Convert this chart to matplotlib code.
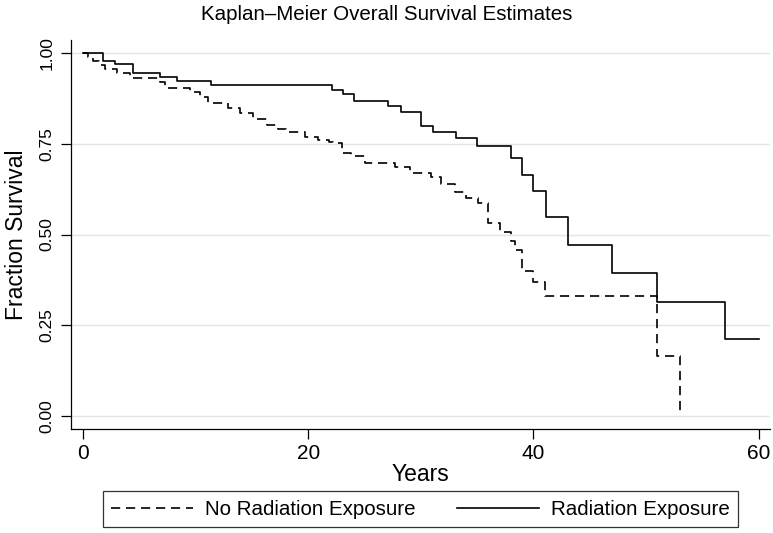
"""
Kaplan-Meier overall survival, radiation vs no radiation exposure.
Step curves read off the reference figure.
"""
import matplotlib
matplotlib.use("Agg")
import matplotlib.pyplot as plt

# --- data (years, fraction surviving) ---
t_rad = [0, 1.8, 2.85, 4.4, 6.8, 8.3, 11.4, 22.1, 23.1, 24.1, 27.1, 28.2,
         30.05, 31.1, 33.1, 35.0, 38.0, 39.0, 40.0, 41.1, 43.1, 47.0, 51.0,
         57.0, 60.0]
s_rad = [1.0, 0.979, 0.969, 0.946, 0.935, 0.923, 0.912, 0.898, 0.886, 0.869,
         0.854, 0.837, 0.80, 0.783, 0.765, 0.745, 0.71, 0.664, 0.621, 0.549,
         0.471, 0.393, 0.315, 0.211, 0.211]

t_norad = [0, 0.47, 0.9, 1.4, 1.95, 3.0, 4.2, 6.8, 7.3, 9.5, 10.4, 11.1, 12.9,
           13.9, 15.1, 16.3, 17.3, 18.0, 19.7, 20.9, 21.8, 22.2, 23.0, 23.8,
           25.0, 27.7, 29.0, 30.9, 31.8, 33.0, 34.0, 35.1, 36.0, 37.0, 38.0,
           38.4, 39.0, 40.0, 41.0, 51.0, 53.0]
s_norad = [1.0, 0.99, 0.978, 0.967, 0.956, 0.944, 0.932, 0.921, 0.905, 0.893,
           0.88, 0.863, 0.848, 0.834, 0.818, 0.803, 0.79, 0.783, 0.77, 0.76,
           0.756, 0.751, 0.724, 0.716, 0.698, 0.687, 0.67, 0.659, 0.64, 0.618,
           0.601, 0.586, 0.531, 0.508, 0.482, 0.457, 0.40, 0.37, 0.33, 0.165,
           0.0]

xticks = [0, 20, 40, 60]
yticks = [0.0, 0.25, 0.5, 0.75, 1.0]
ytick_labels = ["0.00", "0.25", "0.50", "0.75", "1.00"]

plt.rcParams["font.family"] = ["Liberation Sans", "DejaVu Sans"]

fig = plt.figure(figsize=(7.73, 5.33), dpi=100)
ax = fig.add_axes([0.092, 0.195, 0.904, 0.73])

for y in yticks:
    ax.axhline(y, color="#e4e4e4", lw=1.0, zorder=0)

ax.step(t_norad, s_norad, where="post", color="black", lw=1.2,
        dashes=(5.5, 3.5), label="No Radiation Exposure")
ax.step(t_rad, s_rad, where="post", color="black", lw=1.2,
        label="Radiation Exposure")

ax.set_xlim(-1.06, 61)
ax.set_ylim(-0.036, 1.036)
ax.set_xticks(xticks)
ax.set_yticks(yticks)
ax.set_yticklabels(ytick_labels, rotation=90, va="center")
ax.tick_params(direction="out", length=7, width=0.9, pad=4)
ax.tick_params(axis="x", labelsize=15)
ax.tick_params(axis="y", labelsize=12.5, pad=5)

for side in ("top", "right"):
    ax.spines[side].set_visible(False)
for side in ("left", "bottom"):
    ax.spines[side].set_linewidth(0.9)

ax.set_xlabel("Years", fontsize=16.5, labelpad=0)
ax.set_ylabel("Fraction Survival", fontsize=16.5, labelpad=8)
fig.suptitle("Kaplan\u2013Meier Overall Survival Estimates", fontsize=14.8,
             x=0.5, y=0.99, va="top")

leg = ax.legend(loc="center", bbox_to_anchor=(0.5, -0.206), ncol=2,
                fontsize=14.8, frameon=True, fancybox=False, handlelength=4.0,
                columnspacing=2.0, borderpad=0.4, handletextpad=0.6)
leg.get_frame().set_edgecolor("black")
leg.get_frame().set_linewidth(0.9)

fig.savefig("out.png", dpi=100)
